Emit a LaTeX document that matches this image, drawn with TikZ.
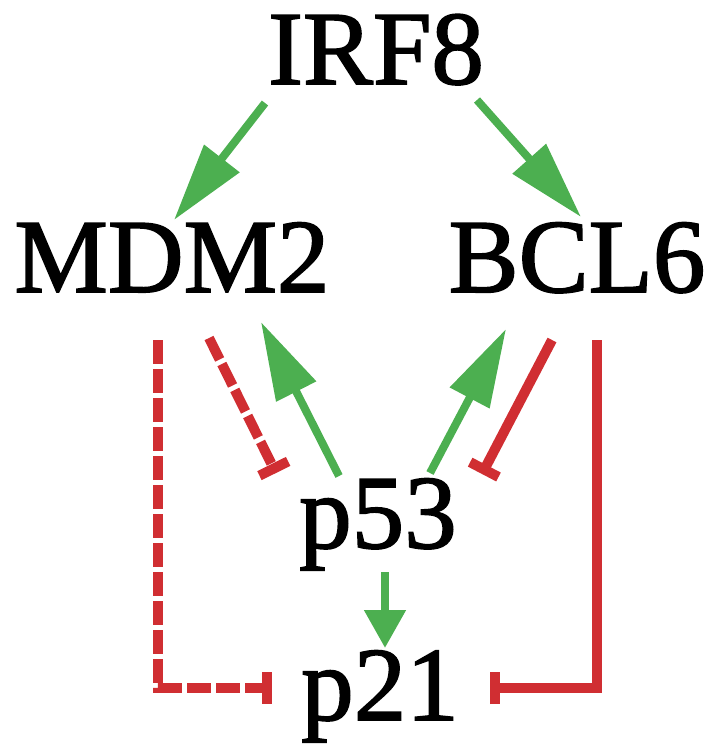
\documentclass[tikz,border=0pt]{standalone}
\usepackage{fontspec}
\setmainfont{Liberation Serif}
\newfontfamily\genefont[FakeBold=1.6]{Liberation Serif}
\usetikzlibrary{arrows.meta}
\definecolor{actgreen}{RGB}{76,175,80}
\definecolor{inhred}{RGB}{208,46,50}
\begin{document}
\begin{tikzpicture}[x=1pt,y=-1pt,
  gene/.style={inner sep=0pt,anchor=base,font=\genefont\fontsize{105}{110}\selectfont},
  activ/.style={actgreen,line width=8pt,-{Triangle[length=78pt,width=43pt]}},
  activsmall/.style={actgreen,line width=8pt,-{Triangle[length=38pt,width=40pt]}},
  inhib/.style={inhred,line width=10pt,-{Bar[width=32pt]}},
  inhibdash/.style={inhib,dash pattern=on 24pt off 5pt}]
\useasboundingbox (0,0) rectangle (713,745);

% genes
\node[gene] (IRF8) at (376,84) {IRF8};
\node[gene] (MDM2) at (172,292) {MDM2};
\node[gene] (BCL6) at (577,292) {BCL6};
\node[gene] (p53)  at (378,548) {p53};
\node[gene] (p21)  at (380,720) {p21};

% connector end points
\coordinate (irfL) at (265,103);
\coordinate (irfR) at (477,100);
\coordinate (mdmIn) at (174,220);
\coordinate (bclIn) at (581,217);
\coordinate (pMup) at (339,476);
\coordinate (mdmUp) at (261,322);
\coordinate (pBup) at (430,473);
\coordinate (bclUp) at (506,329);
\coordinate (mdmD) at (209,338);
\coordinate (pMbar) at (276,473);
\coordinate (bclD) at (552,340);
\coordinate (pBbar) at (482,474);
\coordinate (mdmV) at (158,340);
\coordinate (bclV) at (597,340);
\coordinate (p21L) at (272,688);
\coordinate (p21R) at (490,688);
\coordinate (p53D) at (385,572);
\coordinate (p21T) at (385,648);

% activation
\draw[activ] (irfL) -- (mdmIn);
\draw[activ] (irfR) -- (bclIn);
\draw[activ] (pMup) -- (mdmUp);
\draw[activ] (pBup) -- (bclUp);
\draw[activsmall] (p53D) -- (p21T);

% inhibition
\draw[inhibdash] (mdmD) -- (pMbar);
\draw[inhib] (bclD) -- (pBbar);
\draw[inhibdash] (mdmV) |- (p21L);
\draw[inhib] (bclV) |- (p21R);
\end{tikzpicture}
\end{document}
